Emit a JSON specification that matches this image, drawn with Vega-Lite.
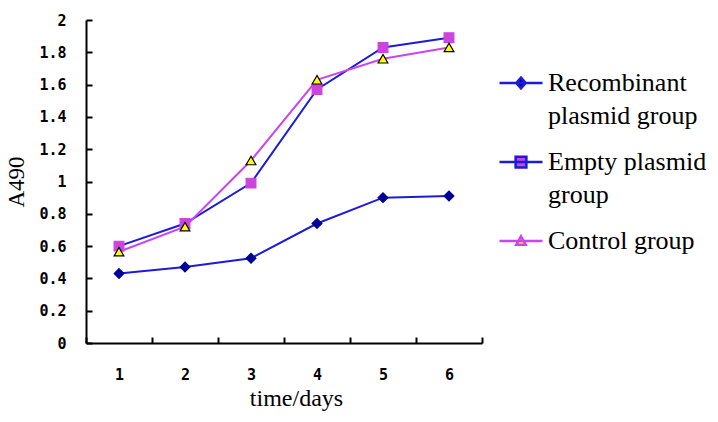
{
  "$schema": "https://vega.github.io/schema/vega-lite/v6.json",
  "width": 396,
  "height": 323,
  "autosize": {"type": "none"},
  "padding": {"left": 86, "top": 20, "right": 236, "bottom": 79},
  "background": "white",
  "config": {
    "view": {"stroke": null},
    "axis": {
      "grid": false,
      "domainColor": "black",
      "domainWidth": 2,
      "tickColor": "black",
      "tickWidth": 2,
      "labelFont": "DejaVu Sans Mono",
      "labelFontWeight": "bold",
      "labelFontSize": 15,
      "labelColor": "black",
      "titleFont": "Liberation Serif",
      "titleFontWeight": "normal",
      "titleColor": "black"
    }
  },
  "data": {
    "values": [
      {"day": "1", "group": "Recombinant plasmid group", "series": "Recombinant", "value": 0.43},
      {"day": "2", "group": "Recombinant plasmid group", "series": "Recombinant", "value": 0.47},
      {"day": "3", "group": "Recombinant plasmid group", "series": "Recombinant", "value": 0.525},
      {"day": "4", "group": "Recombinant plasmid group", "series": "Recombinant", "value": 0.74},
      {"day": "5", "group": "Recombinant plasmid group", "series": "Recombinant", "value": 0.9},
      {"day": "6", "group": "Recombinant plasmid group", "series": "Recombinant", "value": 0.91},
      {"day": "1", "group": "Empty plasmid group", "series": "Empty", "value": 0.6},
      {"day": "2", "group": "Empty plasmid group", "series": "Empty", "value": 0.74},
      {"day": "3", "group": "Empty plasmid group", "series": "Empty", "value": 0.99},
      {"day": "4", "group": "Empty plasmid group", "series": "Empty", "value": 1.57},
      {"day": "5", "group": "Empty plasmid group", "series": "Empty", "value": 1.83},
      {"day": "6", "group": "Empty plasmid group", "series": "Empty", "value": 1.89},
      {"day": "1", "group": "Control group", "series": "Control", "value": 0.565},
      {"day": "2", "group": "Control group", "series": "Control", "value": 0.72},
      {"day": "3", "group": "Control group", "series": "Control", "value": 1.13},
      {"day": "4", "group": "Control group", "series": "Control", "value": 1.63},
      {"day": "5", "group": "Control group", "series": "Control", "value": 1.76},
      {"day": "6", "group": "Control group", "series": "Control", "value": 1.83}
    ]
  },
  "encoding": {
    "x": {
      "field": "day",
      "type": "ordinal",
      "scale": {"type": "band", "paddingInner": 0, "paddingOuter": 0},
      "axis": {
        "title": "time/days",
        "titleFontSize": 24,
        "titleX": 210,
        "titleY": 62,
        "titleBaseline": "alphabetic",
        "labelAngle": 0,
        "tickBand": "extent",
        "tickSize": -6,
        "labelPadding": 30
      }
    },
    "y": {
      "field": "value",
      "type": "quantitative",
      "scale": {"domain": [0, 2], "nice": false},
      "axis": {
        "title": "A490",
        "titleFontSize": 23,
        "values": [0, 0.2, 0.4, 0.6, 0.8, 1, 1.2, 1.4, 1.6, 1.8, 2],
        "format": "~g",
        "tickSize": -6,
        "labelPadding": 26,
        "titlePadding": 10
      }
    }
  },
  "layer": [
    {
      "mark": {"type": "line", "strokeWidth": 2},
      "encoding": {
        "color": {
          "field": "group",
          "type": "nominal",
          "scale": {
            "domain": ["Recombinant plasmid group", "Empty plasmid group", "Control group"],
            "range": ["#1c1cd8", "#1c1cd8", "#cc44ee"]
          },
          "legend": {
            "title": null,
            "orient": "none",
            "legendX": 412,
            "legendY": 40,
            "symbolSize": 1849,
            "symbolStrokeWidth": 2.5,
            "labelFont": "Liberation Serif",
            "labelFontSize": 26,
            "labelColor": "black",
            "labelOffset": 4,
            "labelLimit": 300,
            "rowPadding": 10,
            "labelExpr": "datum.label == 'Recombinant plasmid group' ? ['Recombinant', 'plasmid group'] : datum.label == 'Empty plasmid group' ? ['Empty plasmid', 'group'] : datum.label",
            "encode": {
              "symbols": {
                "update": {
                  "shape": {"signal": "datum.value == 'Recombinant plasmid group' ? 'M-1,0H1M0,-0.25L0.22,0L0,0.25L-0.22,0Z' : datum.value == 'Empty plasmid group' ? 'M-1,0H1M-0.25,-0.25H0.25V0.25H-0.25Z' : 'M-1,0H1M0,-0.22L0.22,0.18H-0.22Z'"},
                  "fill": {"signal": "datum.value == 'Recombinant plasmid group' ? '#000099' : datum.value == 'Empty plasmid group' ? '#cc44dd' : '#ffff00'"},
                  "fillOpacity": {"value": 1}
                }
              },
              "labels": {
                "update": {
                  "lineHeight": {"value": 33}
                }
              }
            }
          }
        }
      }
    },
    {
      "mark": {"type": "point", "filled": true, "opacity": 1, "strokeWidth": 1.2},
      "encoding": {
        "shape": {
          "field": "series",
          "type": "nominal",
          "scale": {
            "domain": ["Recombinant", "Empty", "Control"],
            "range": ["diamond", "square", "triangle-up"]
          },
          "legend": null
        },
        "fill": {
          "field": "series",
          "type": "nominal",
          "scale": {
            "domain": ["Recombinant", "Empty", "Control"],
            "range": ["#000099", "#cc44dd", "#ffff00"]
          },
          "legend": null
        },
        "stroke": {
          "field": "series",
          "type": "nominal",
          "scale": {
            "domain": ["Recombinant", "Empty", "Control"],
            "range": ["#000099", "#cc44dd", "#000000"]
          },
          "legend": null
        },
        "size": {"value": 95}
      }
    }
  ]
}
